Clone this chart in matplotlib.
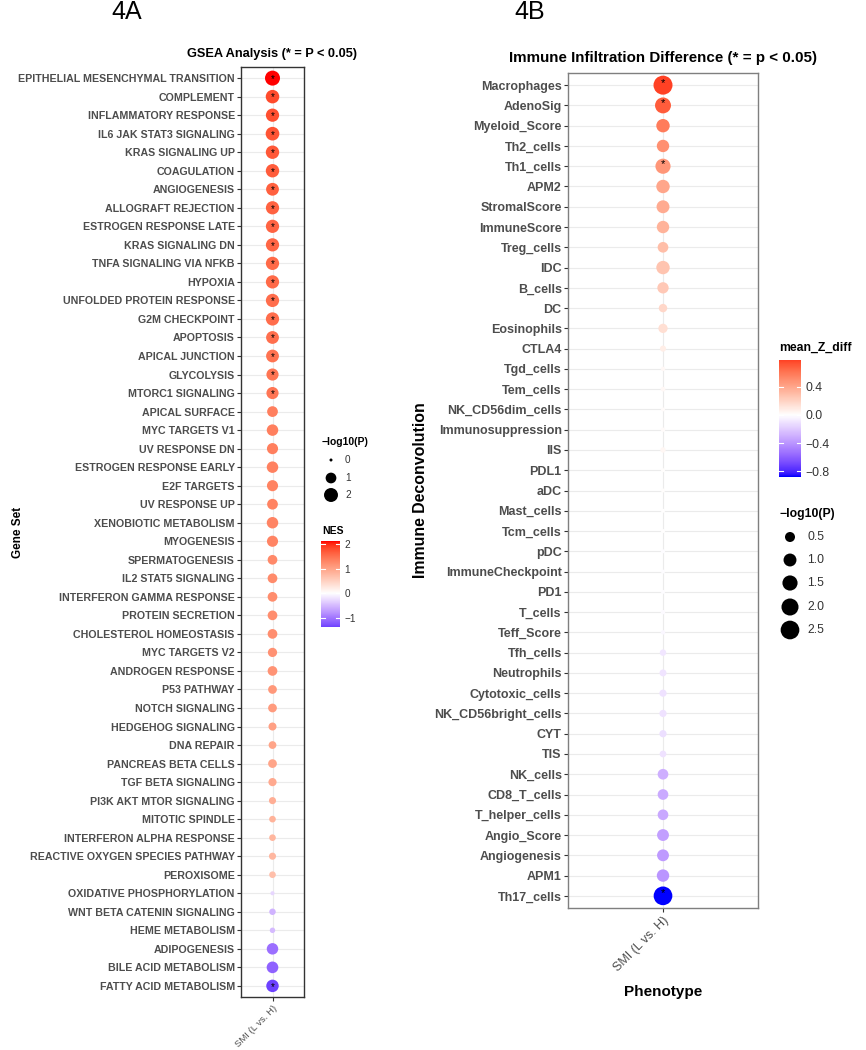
import numpy as np
import matplotlib
matplotlib.use("Agg")
import matplotlib.pyplot as plt
from matplotlib.colors import ListedColormap, Normalize, TwoSlopeNorm

plt.rcParams['font.family'] = ['Liberation Sans', 'DejaVu Sans']

# ----------------------------------------------------------------
#  Data: 4A  GSEA hallmark gene sets
# ----------------------------------------------------------------
gsea_sets = [
    "EPITHELIAL MESENCHYMAL TRANSITION", "COMPLEMENT", "INFLAMMATORY RESPONSE",
    "IL6 JAK STAT3 SIGNALING", "KRAS SIGNALING UP", "COAGULATION", "ANGIOGENESIS",
    "ALLOGRAFT REJECTION", "ESTROGEN RESPONSE LATE", "KRAS SIGNALING DN",
    "TNFA SIGNALING VIA NFKB", "HYPOXIA", "UNFOLDED PROTEIN RESPONSE", "G2M CHECKPOINT",
    "APOPTOSIS", "APICAL JUNCTION", "GLYCOLYSIS", "MTORC1 SIGNALING", "APICAL SURFACE",
    "MYC TARGETS V1", "UV RESPONSE DN", "ESTROGEN RESPONSE EARLY", "E2F TARGETS",
    "UV RESPONSE UP", "XENOBIOTIC METABOLISM", "MYOGENESIS", "SPERMATOGENESIS",
    "IL2 STAT5 SIGNALING", "INTERFERON GAMMA RESPONSE", "PROTEIN SECRETION",
    "CHOLESTEROL HOMEOSTASIS", "MYC TARGETS V2", "ANDROGEN RESPONSE", "P53 PATHWAY",
    "NOTCH SIGNALING", "HEDGEHOG SIGNALING", "DNA REPAIR", "PANCREAS BETA CELLS",
    "TGF BETA SIGNALING", "PI3K AKT MTOR SIGNALING", "MITOTIC SPINDLE",
    "INTERFERON ALPHA RESPONSE", "REACTIVE OXYGEN SPECIES PATHWAY", "PEROXISOME",
    "OXIDATIVE PHOSPHORYLATION", "WNT BETA CATENIN SIGNALING", "HEME METABOLISM",
    "ADIPOGENESIS", "BILE ACID METABOLISM", "FATTY ACID METABOLISM",
]
gsea_nes = [
    2.12, 1.82, 1.78, 1.74, 1.71, 1.68, 1.64, 1.63, 1.61, 1.59,
    1.57, 1.56, 1.54, 1.53, 1.51, 1.49, 1.47, 1.45, 1.37, 1.37,
    1.36, 1.35, 1.34, 1.33, 1.32, 1.31, 1.26, 1.25, 1.24, 1.22,
    1.21, 1.18, 1.17, 1.12, 1.08, 1.03, 0.99, 0.98, 0.93, 0.88,
    0.83, 0.80, 0.78, 0.70, -0.30, -0.55, -0.50, -1.05, -1.15, -1.37,
]
gsea_logp = [
    2.40, 1.85, 1.75, 1.90, 1.80, 1.80, 1.60, 1.75, 1.75, 1.75,
    1.75, 1.75, 1.75, 1.75, 1.60, 1.60, 1.40, 1.40, 1.00, 1.20,
    1.10, 1.20, 1.10, 1.00, 1.20, 1.10, 0.75, 0.75, 0.75, 0.75,
    0.75, 0.65, 0.75, 0.55, 0.55, 0.42, 0.38, 0.55, 0.45, 0.28,
    0.22, 0.22, 0.28, 0.22, 0.02, 0.20, 0.10, 1.20, 1.25, 1.50,
]
gsea_sig = [True] * 18 + [False] * 31 + [True]

# ----------------------------------------------------------------
#  Data: 4B  immune deconvolution
# ----------------------------------------------------------------
immune_cells = [
    "Macrophages", "AdenoSig", "Myeloid_Score", "Th2_cells", "Th1_cells", "APM2",
    "StromalScore", "ImmuneScore", "Treg_cells", "IDC", "B_cells", "DC", "Eosinophils",
    "CTLA4", "Tgd_cells", "Tem_cells", "NK_CD56dim_cells", "Immunosuppression", "IIS",
    "PDL1", "aDC", "Mast_cells", "Tcm_cells", "pDC", "ImmuneCheckpoint", "PD1",
    "T_cells", "Teff_Score", "Tfh_cells", "Neutrophils", "Cytotoxic_cells",
    "NK_CD56bright_cells", "CYT", "TIS", "NK_cells", "CD8_T_cells", "T_helper_cells",
    "Angio_Score", "Angiogenesis", "APM1", "Th17_cells",
]
immune_z = [
    0.78, 0.70, 0.58, 0.50, 0.47, 0.40, 0.38, 0.35, 0.30, 0.27, 0.25, 0.18, 0.15,
    0.08, 0.03, 0.03, 0.02, 0.02, 0.04, 0.01, 0.01, 0.00, 0.00, -0.01, -0.01, -0.01,
    -0.02, -0.03, -0.09, -0.10, -0.11, -0.11, -0.12, -0.11, -0.30, -0.32, -0.33,
    -0.36, -0.38, -0.40, -0.88,
]
immune_logp = [
    2.60, 1.70, 1.10, 0.90, 1.50, 1.10, 1.00, 0.90, 0.60, 1.10, 0.70, 0.30, 0.40,
    0.10, 0.02, 0.03, 0.01, 0.02, 0.06, 0.01, 0.01, 0.01, 0.01, 0.01, 0.01, 0.01,
    0.02, 0.02, 0.12, 0.16, 0.18, 0.18, 0.18, 0.14, 0.60, 0.60, 0.60, 0.80, 0.80,
    0.90, 2.50,
]
immune_sig = [True, True, False, False, True] + [False] * 35 + [True]

phenotype = "SMI (L vs. H)"

W, H = 866, 1050


# ----------------------------------------------------------------
#  ggplot-like blue / white / red gradient (Lab interpolation)
# ----------------------------------------------------------------
def lab_to_rgb(lab):
    L, a, b = lab[:, 0], lab[:, 1], lab[:, 2]
    fy = (L + 16) / 116
    fx = fy + a / 500
    fz = fy - b / 200
    d = 6 / 29

    def finv(t):
        return np.where(t > d, t ** 3, 3 * d * d * (t - 4 / 29))

    xyz = np.stack([0.95047 * finv(fx), finv(fy), 1.08883 * finv(fz)], axis=1)
    m = np.array([[3.2406, -1.5372, -0.4986],
                  [-0.9689, 1.8758, 0.0415],
                  [0.0557, -0.2040, 1.0570]])
    rgb = np.clip(xyz @ m.T, 0, None)
    rgb = np.where(rgb <= 0.0031308, 12.92 * rgb, 1.055 * rgb ** (1 / 2.4) - 0.055)
    return np.clip(rgb, 0, 1)


def gradient2_cmap():
    blue = np.array([32.30, 79.19, -107.86])
    white = np.array([100.0, 0.0, 0.0])
    red = np.array([53.24, 80.09, 67.20])
    t = np.linspace(0, 1, 256)[:, None]
    lab = np.where(t < 0.5, blue + (white - blue) * (t / 0.5),
                   white + (red - white) * ((t - 0.5) / 0.5))
    return ListedColormap(lab_to_rgb(lab))


cmap = gradient2_cmap()


def px_rect(x0, y0, x1, y1):
    return [x0 / W, 1 - y1 / H, (x1 - x0) / W, (y1 - y0) / H]


def size_fn(vals, vmax, dmin_px, dmax_px):
    d = dmin_px + (dmax_px - dmin_px) * np.sqrt(np.clip(np.asarray(vals) / vmax, 0, 1))
    return (d * 72 / 100) ** 2


# ----------------------------------------------------------------
#  Dot panel
# ----------------------------------------------------------------
def dot_panel(ax, labels, values, logp, sig, norm, sizes, lab_fs, xt_fs, star_fs,
              star_dy, border):
    n = len(labels)
    y = np.arange(n)
    ax.scatter(np.zeros(n), y, s=sizes(logp), c=values, cmap=cmap, norm=norm,
               linewidths=0, zorder=3)
    for yi, s in zip(y, sig):
        if s:
            ax.text(0, yi + star_dy, "*", ha="center", va="center", fontsize=star_fs,
                    color="black", zorder=4)
    ax.set_xlim(-0.6, 0.6)
    ax.set_ylim(n - 1 + 0.6, -0.6)
    ax.set_yticks(y)
    ax.set_yticklabels(labels, fontweight="bold", fontsize=lab_fs, color="#4D4D4D")
    ax.set_xticks([0])
    ax.set_xticklabels([phenotype], rotation=45, ha="right", rotation_mode="anchor",
                       fontsize=xt_fs, color="#4D4D4D")
    ax.grid(True, color="#EBEBEB", lw=0.8)
    ax.set_axisbelow(True)
    ax.tick_params(length=3, width=0.8, color="#333333", pad=1.5)
    for sp in ax.spines.values():
        sp.set_color(border)
        sp.set_linewidth(1.0)


def colorbar_box(fig, rect, lo, hi, norm, ticks, ticklabels, fs):
    cax = fig.add_axes(rect)
    grad = np.linspace(lo, hi, 256)[:, None]
    cax.imshow(grad, aspect="auto", origin="lower", extent=[0, 1, lo, hi],
               cmap=cmap, norm=norm)
    for t in ticks:
        cax.plot([0, 0.2], [t, t], color="white", lw=0.8)
        cax.plot([0.8, 1], [t, t], color="white", lw=0.8)
    cax.set_xlim(0, 1)
    cax.set_ylim(lo, hi)
    cax.set_xticks([])
    cax.yaxis.tick_right()
    cax.set_yticks(ticks)
    cax.set_yticklabels(ticklabels, fontsize=fs, color="#333333")
    cax.tick_params(length=0, pad=3)
    for sp in cax.spines.values():
        sp.set_visible(False)
    return cax


fig = plt.figure(figsize=(W / 100, H / 100), dpi=100)

# overlay for titles and legend keys, in pixel units
ov = fig.add_axes([0, 0, 1, 1])
ov.set_xlim(0, W)
ov.set_ylim(H, 0)
ov.axis("off")
ov.patch.set_alpha(0)

# ---------------------------- 4A ----------------------------
nes_max = max(gsea_nes)
norm_a = TwoSlopeNorm(vcenter=0, vmin=-1.7, vmax=nes_max)
sizes_a = lambda v: size_fn(v, 2.4, 3, 15)

ax_a = fig.add_axes(px_rect(241, 67, 304, 997))
dot_panel(ax_a, gsea_sets, gsea_nes, gsea_logp, gsea_sig, norm_a, sizes_a,
          lab_fs=7.7, xt_fs=6.8, star_fs=7, star_dy=0.05, border="#333333")
ax_a.set_ylabel("Gene Set", fontweight="bold", fontsize=8.5)
ax_a.yaxis.set_label_coords(-3.44, 0.5)

ov.text(127, 12, "4A", fontsize=18, ha="center", va="center")
ov.text(272, 54, "GSEA Analysis (* = P < 0.05)", fontsize=9.2, fontweight="bold",
        ha="center", va="center")

ov.text(322, 442, "\u2212log10(P)", fontsize=7.5, fontweight="bold", va="center")
leg_a_vals = [0, 1, 2]
leg_a_y = [460, 478, 495]
ov.scatter([331] * 3, leg_a_y, s=sizes_a(leg_a_vals), color="black", linewidths=0)
for v, yy in zip(leg_a_vals, leg_a_y):
    ov.text(345, yy, str(v), fontsize=7.2, va="center", color="#333333")

ov.text(322, 531, "NES", fontsize=7.5, fontweight="bold", va="center")
colorbar_box(fig, px_rect(321, 541, 340, 627), min(gsea_nes), max(gsea_nes), norm_a,
             [-1, 0, 1, 2], ["\u22121", "0", "1", "2"], 7.2)

# ---------------------------- 4B ----------------------------
z_max = max(abs(v) for v in immune_z)
norm_b = Normalize(-z_max, z_max)
sizes_b = lambda v: size_fn(v, 2.6, 3, 19)

ax_b = fig.add_axes(px_rect(568, 73, 758, 908))
dot_panel(ax_b, immune_cells, immune_z, immune_logp, immune_sig, norm_b, sizes_b,
          lab_fs=9, xt_fs=9, star_fs=8, star_dy=-0.12, border="#7F7F7F")
ax_b.set_ylabel("Immune Deconvolution", fontweight="bold", fontsize=11.4)
ax_b.yaxis.set_label_coords(-0.737, 0.5)
ax_b.set_xlabel("Phenotype", fontweight="bold", fontsize=11)
ax_b.xaxis.set_label_coords(0.5, -0.092)

ov.text(530, 12, "4B", fontsize=18, ha="center", va="center")
ov.text(663, 58, "Immune Infiltration Difference (* = p < 0.05)", fontsize=10.9,
        fontweight="bold", ha="center", va="center")

ov.text(779, 348, "mean_Z_diff", fontsize=8.8, fontweight="bold", va="center")
colorbar_box(fig, px_rect(779, 360, 801, 477), min(immune_z), max(immune_z), norm_b,
             [-0.8, -0.4, 0.0, 0.4], ["\u22120.8", "\u22120.4", "0.0", "0.4"], 8.8)

ov.text(779, 514, "\u2212log10(P)", fontsize=8.8, fontweight="bold", va="center")
leg_b_vals = [0.5, 1.0, 1.5, 2.0, 2.5]
leg_b_y = [537, 560, 583, 607, 630]
ov.scatter([790] * 5, leg_b_y, s=sizes_b(leg_b_vals), color="black", linewidths=0)
for v, yy in zip(leg_b_vals, leg_b_y):
    ov.text(807, yy, f"{v:.1f}", fontsize=8.8, va="center", color="#333333")

fig.savefig("out.png", dpi=100)
